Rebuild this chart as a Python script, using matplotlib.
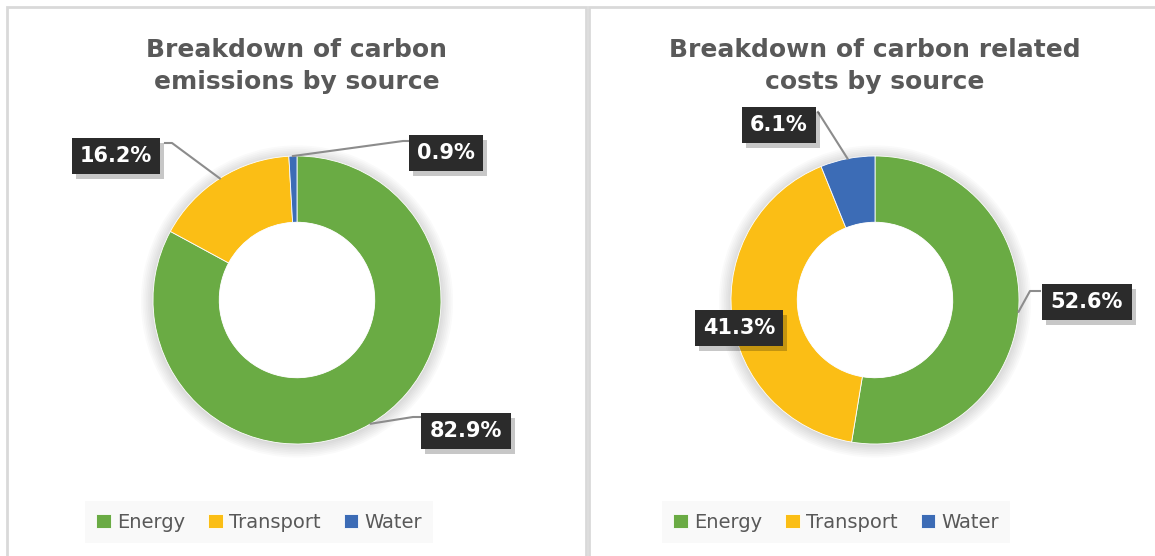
import numpy as np
import matplotlib
matplotlib.use("Agg")
import matplotlib.pyplot as plt
from matplotlib.patches import Rectangle, Circle
from matplotlib.lines import Line2D

# ---------------- data ----------------
categories = ["Energy", "Transport", "Water"]
emissions_pct = [82.9, 16.2, 0.9]
costs_pct = [52.6, 41.3, 6.1]
titles = ["Breakdown of carbon\nemissions by source",
          "Breakdown of carbon related\ncosts by source"]
colors = ["#6AAB44", "#FBBE15", "#3C6CB6"]

W, H = 1155, 556
fig = plt.figure(figsize=(W / 100, H / 100), dpi=100)
fig.patch.set_facecolor("white")


def ff(px, py):
    """pixel (top-left origin) -> figure fraction"""
    return px / W, 1 - py / H


# panel borders
for x0, x1 in [(7, 586), (589, 1170)]:
    fig.patches.append(Rectangle(ff(x0, 580), (x1 - x0) / W, (580 - 7) / H,
                                 transform=fig.transFigure, fill=False,
                                 edgecolor="#D9D9D9", linewidth=2, zorder=0))

R_PX = 144
LIM = 1.6
panels = [
    dict(vals=emissions_pct, title=titles[0], cx=297, cy=300,
         boxes=[(466, 431), (116, 156), (446, 153)],
         elbows=[[(413, 417), (420, 417)], [(172, 143), (165, 143)],
                 [(403, 141), (408, 141)]],
         legend_c=(259, 522)),
    dict(vals=costs_pct, title=titles[1], cx=875, cy=300,
         boxes=[(1087, 302), (739, 328), (779, 125)],
         elbows=[[(1030, 291), (1040, 291)], None, [(818, 112)]],
         legend_c=(836, 522)),
]

label_texts = []
for p in panels:
    size = 2 * LIM * R_PX
    l, b = ff(p["cx"] - size / 2, p["cy"] + size / 2)
    ax = fig.add_axes([l, b, size / W, size / H])
    ax.set_xlim(-LIM, LIM)
    ax.set_ylim(-LIM, LIM)
    ax.set_aspect("equal")
    ax.axis("off")

    # soft shadow
    for k in range(8):
        ax.add_patch(Circle((0.0, -0.01), 1.0 + 0.012 * k, facecolor="#000000",
                            alpha=0.018, edgecolor="none", zorder=0))

    wedges, _ = ax.pie(p["vals"], colors=colors, startangle=90, counterclock=False,
                       radius=1.0, wedgeprops=dict(width=0.46, edgecolor="white",
                                                   linewidth=0.6),
                       frame=False)
    ax.add_patch(Circle((0, 0), 0.54, facecolor="white", edgecolor="none", zorder=5))
    ax.set_xlim(-LIM, LIM)
    ax.set_ylim(-LIM, LIM)

    # title
    tx, ty = ff(p["cx"], 66)
    fig.text(tx, ty, p["title"], ha="center", va="center", fontsize=18,
             fontweight="bold", color="#595959", linespacing=1.45)

    # data labels
    inv = fig.transFigure.inverted()
    for w, val, box, elb in zip(wedges, p["vals"], p["boxes"], p["elbows"]):
        mid = np.deg2rad((w.theta1 + w.theta2) / 2)
        ring = inv.transform(ax.transData.transform((np.cos(mid), np.sin(mid))))
        if elb is not None:
            pts = [tuple(ring)] + [ff(*e) for e in elb]
            xs, ys = zip(*pts)
            fig.lines.append(Line2D(xs, ys, transform=fig.transFigure,
                                    color="#8C8C8C", linewidth=1.5, zorder=6))
        bx, by = ff(*box)
        t = fig.text(bx, by, f"{val:.1f}%", ha="center", va="center", fontsize=15,
                     fontweight="bold", color="white", zorder=8,
                     bbox=dict(boxstyle="square,pad=0.4", facecolor="#2B2B2B",
                               edgecolor="none"))
        label_texts.append(t)

    # legend
    lx, ly = ff(*p["legend_c"])
    fig.legend(wedges, categories, loc="center", bbox_to_anchor=(lx, ly),
               ncol=3, frameon=True, facecolor="#F9F9F9", edgecolor="none",
               framealpha=1, fancybox=False, fontsize=14, labelcolor="#595959",
               handlelength=0.75, handleheight=0.75, handletextpad=0.3,
               columnspacing=1.2, borderpad=0.6)

# drop shadows behind the data-label boxes
fig.canvas.draw()
renderer = fig.canvas.get_renderer()
inv = fig.transFigure.inverted()
for t in label_texts:
    bb = t.get_bbox_patch().get_window_extent(renderer)
    (x0, y0), (x1, y1) = inv.transform([(bb.x0 + 4, bb.y0 - 5), (bb.x1 + 4, bb.y1 - 5)])
    fig.patches.append(Rectangle((x0, y0), x1 - x0, y1 - y0, transform=fig.transFigure,
                                 facecolor="#000000", alpha=0.22, edgecolor="none",
                                 zorder=7))

fig.savefig("out.png", dpi=100, facecolor="white")
